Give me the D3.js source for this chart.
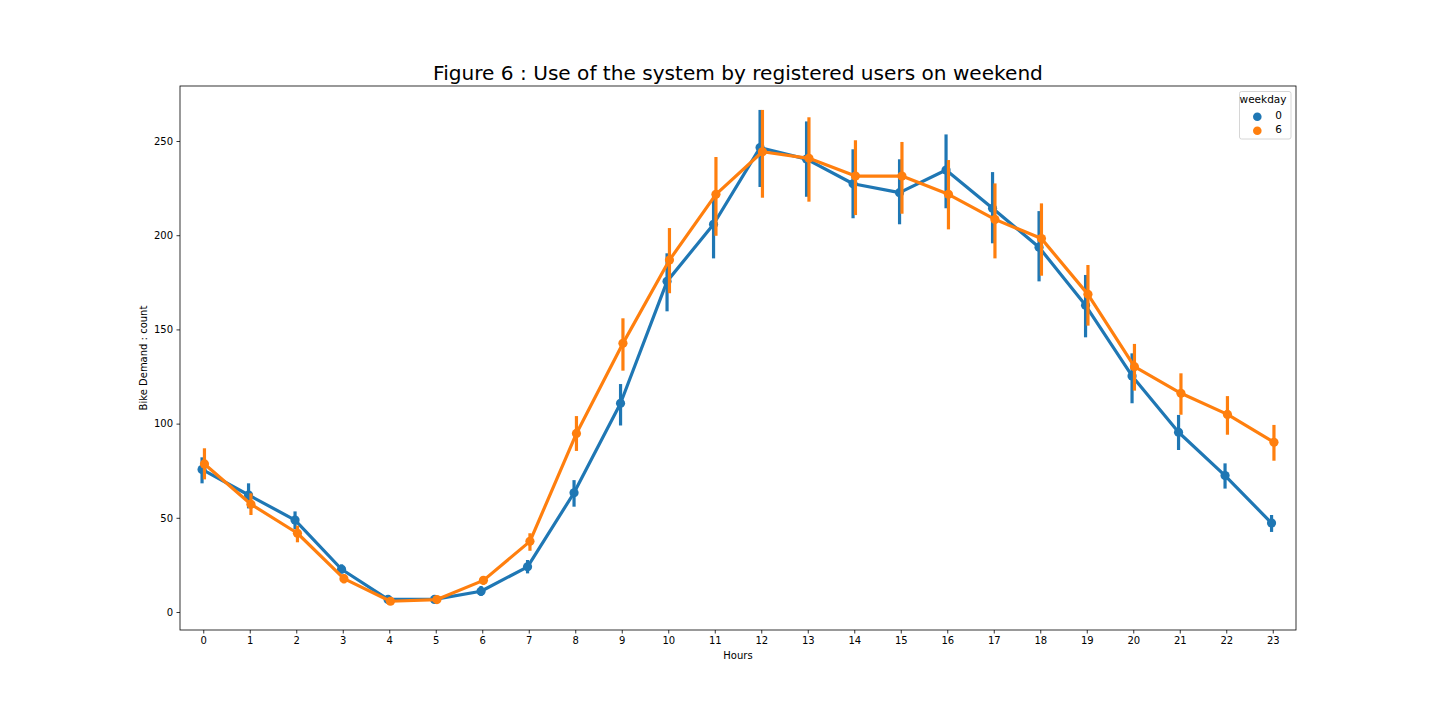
<!DOCTYPE html>
<html><head><meta charset="utf-8">
<script src="https://cdn.jsdelivr.net/npm/d3@7/dist/d3.min.js"></script>
<style>body{margin:0;background:#fff}text{font-family:"DejaVu Sans",sans-serif}</style>
</head><body><svg id="c" width="1440" height="720"></svg>
<script>
const hours = d3.range(24).map(String);
const weekdays = ["0","6"];
const colors = ["#1f77b4","#ff7f0e"];
const sunMean = [75.7,62.1,48.8,22.7,6.7,6.7,11.0,24.0,63.3,110.8,175.5,205.8,246.5,240.4,227.3,222.6,234.6,214.3,193.6,162.8,125.3,95.4,72.4,47.2];
const sunLo   = [68.3,55.0,43.9,20.5,6.0,6.0,8.5,20.5,55.9,99.0,159.6,187.7,225.6,220.4,209.0,205.8,214.3,195.7,175.5,145.8,110.8,86.0,65.5,42.5];
const sunHi   = [82.1,68.3,53.4,25.3,7.5,7.6,13.8,27.6,70.0,121.0,190.4,222.2,266.5,260.4,245.6,240.3,253.5,233.5,212.8,178.9,137.3,104.6,78.9,51.5];
const satMean = [78.6,57.2,41.8,17.7,5.7,6.6,16.8,37.5,94.8,142.6,186.8,221.7,244.3,240.8,231.4,231.4,221.7,208.4,198.2,168.6,130.2,116.1,104.9,90.1];
const satLo   = [70.4,51.5,37.0,15.2,5.0,5.9,14.5,32.5,85.5,128.1,169.2,199.7,219.9,217.8,210.7,211.4,203.1,187.7,178.5,152.0,117.5,104.7,94.1,80.3];
const satHi   = [86.9,63.0,45.8,20.0,6.5,7.3,18.7,41.8,104.0,155.9,203.8,241.5,266.5,262.6,250.4,249.5,239.9,227.5,216.9,184.2,142.3,126.7,114.6,99.3];
const yTicks = [0,50,100,150,200,250];
const series = [
  {key:weekdays[0], mean:sunMean, lo:sunLo, hi:sunHi, color:colors[0], dodge:-1.2},
  {key:weekdays[1], mean:satMean, lo:satLo, hi:satHi, color:colors[1], dodge:1.2}
];

const svg = d3.select("#c");
const L=180,R=1296,T=86,B=630;
const x = d3.scalePoint().domain(hours).range([L,R]).padding(0.5);
const y = d3.scaleLinear().domain([-9.55,279.2]).range([B,T]);

svg.append("text").attr("x",(L+R)/2).attr("y",80).attr("text-anchor","middle")
  .style("font-size","20.1px").text("Figure 6 : Use of the system by registered users on weekend");

const gx = svg.append("g").attr("transform",`translate(0,${B})`)
  .call(d3.axisBottom(x).tickSize(3.5).tickPadding(3.5));
const gy = svg.append("g").attr("transform",`translate(${L},0)`)
  .call(d3.axisLeft(y).tickValues(yTicks).tickSize(3.5).tickPadding(3.5));
[gx,gy].forEach(g=>{g.select(".domain").remove();g.selectAll("text").style("font-size","10px").attr("fill","#000");g.selectAll("line").attr("stroke","#000").attr("stroke-width",0.8);});

svg.append("text").attr("x",(L+R)/2).attr("y",659).attr("text-anchor","middle").style("font-size","10px").text("Hours");
svg.append("text").attr("transform",`translate(147,${(T+B)/2}) rotate(-90)`).attr("text-anchor","middle").style("font-size","10px").text("Bike Demand : count");

const plot = svg.append("g");
series.forEach(s=>{
  const px = i=>x(hours[i])+s.dodge;
  const g = plot.append("g");
  g.selectAll("line.ci").data(hours).join("line").attr("class","ci")
    .attr("x1",(d,i)=>px(i)).attr("x2",(d,i)=>px(i))
    .attr("y1",(d,i)=>y(s.lo[i])).attr("y2",(d,i)=>y(s.hi[i]))
    .attr("stroke",s.color).attr("stroke-width",3.2);
  g.append("path").datum(hours)
    .attr("d",d3.line().x((d,i)=>px(i)).y((d,i)=>y(s.mean[i])))
    .attr("fill","none").attr("stroke",s.color).attr("stroke-width",3.2).attr("stroke-linejoin","round");
  g.selectAll("circle").data(hours).join("circle")
    .attr("cx",(d,i)=>px(i)).attr("cy",(d,i)=>y(s.mean[i])).attr("r",4.6).attr("fill",s.color);
});

svg.append("rect").attr("x",L).attr("y",T).attr("width",R-L).attr("height",B-T)
  .attr("fill","none").attr("stroke","#000").attr("stroke-width",0.8);

const lg = svg.append("g");
lg.append("rect").attr("x",1239.5).attr("y",91.5).attr("width",51.5).attr("height",47.5).attr("rx",2)
  .attr("fill","#fff").attr("fill-opacity",0.8).attr("stroke","#ccc").attr("stroke-width",0.8);
lg.append("text").attr("x",1263).attr("y",103.3).attr("text-anchor","middle").style("font-size","10.5px").text("weekday");
series.forEach((s,i)=>{
  lg.append("circle").attr("cx",1257.3).attr("cy",116.7+i*14).attr("r",4.3).attr("fill",s.color);
  lg.append("text").attr("x",1278.5).attr("y",118.5+i*14).attr("text-anchor","middle").style("font-size","10.5px").text(s.key);
});
</script></body></html>
